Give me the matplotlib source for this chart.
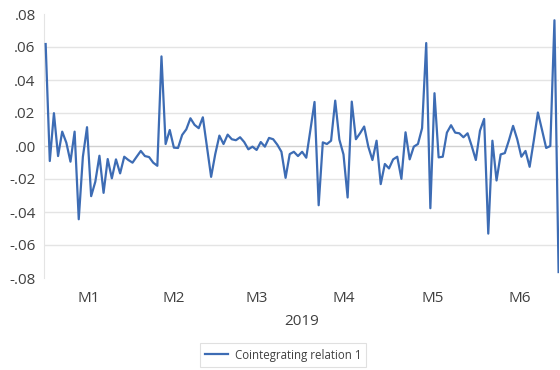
import matplotlib
matplotlib.use("Agg")
import matplotlib.pyplot as plt
import numpy as np

# observations per month (business days), H1 2019
month_labels = ["M1", "M2", "M3", "M4", "M5", "M6"]
month_obs = [22, 19, 21, 21, 22, 20]
year_label = "2019"
series_name = "Cointegrating relation 1"

relation = [
    0.0618, -0.0091, 0.0199, -0.0061, 0.0087, 0.0020, -0.0095, 0.0087, -0.0444, -0.0065,
    0.0114, -0.0304, -0.0217, -0.0059, -0.0284, -0.0079, -0.0196, -0.0081, -0.0166, -0.0065,
    -0.0085, -0.0101, -0.0065, -0.0030, -0.0061, -0.0067, -0.0101, -0.0120, 0.0543, 0.0012,
    0.0097, -0.0010, -0.0012, 0.0067, 0.0101, 0.0168,
    0.0128, 0.0108, 0.0174, -0.0006, -0.0187, -0.0049, 0.0063, 0.0012, 0.0069, 0.0041,
    0.0035, 0.0053, 0.0024, -0.0020, -0.0004, -0.0024, 0.0024, -0.0004, 0.0049, 0.0041,
    0.0008, -0.0035, -0.0193, -0.0049, -0.0035, -0.0061, -0.0035, -0.0071, 0.0097, 0.0267,
    -0.0359, 0.0022, 0.0012, 0.0032, 0.0275, 0.0039, -0.0051, -0.0312, 0.0269, 0.0041,
    0.0077, 0.0118, -0.0004,
    -0.0085, 0.0032, -0.0231, -0.0109, -0.0136, -0.0081, -0.0065, -0.0199, 0.0083, -0.0081,
    -0.0004, 0.0012, 0.0108, 0.0624, -0.0377, 0.0320, -0.0069, -0.0065, 0.0081, 0.0126,
    0.0081, 0.0077, 0.0053, 0.0077, 0.0000, -0.0085, 0.0093, 0.0164, -0.0531, 0.0032,
    -0.0209, -0.0051, -0.0043, 0.0035, 0.0122, 0.0041, -0.0065, -0.0030, -0.0126, 0.0032,
    0.0203, 0.0097, -0.0012, 0.0000, 0.0762, -0.0764,
]

y_ticks = [0.08, 0.06, 0.04, 0.02, 0.0, -0.02, -0.04, -0.06, -0.08]
y_tick_labels = [".08", ".06", ".04", ".02", ".00", "-.02", "-.04", "-.06", "-.08"]

plt.rcParams["font.family"] = ["Open Sans", "DejaVu Sans"]
txt = "#404040"
blue = "#3d6cb4"

fig = plt.figure(figsize=(5.6, 3.7), dpi=100)
ax = fig.add_axes([44 / 560, 1 - 278 / 370, (559 - 44) / 560, (278 - 14) / 370])

x = np.arange(len(relation))
ax.plot(x, relation, color=blue, lw=1.6, label=series_name, zorder=3)

ax.set_ylim(-0.08, 0.08)
ax.set_xlim(-0.4, len(relation) - 1 + 0.1)
ax.set_yticks(y_ticks)
ax.set_yticklabels(y_tick_labels, color=txt, fontsize=11)
for t in y_ticks:
    if abs(t) < 0.079:
        ax.axhline(t, color="#e4e4e4" if t != 0 else "#d0d0d0", lw=1, zorder=1)

edges = np.cumsum([0] + month_obs)
centers = [(edges[i] + edges[i + 1] - 1) / 2 for i in range(len(month_obs))]
ax.set_xticks(centers)
ax.set_xticklabels(month_labels, color=txt, fontsize=11)
ax.tick_params(length=0)
ax.tick_params(axis="x", pad=9)
ax.tick_params(axis="y", pad=6)
ax.set_xlabel(year_label, color=txt, fontsize=11, labelpad=6)

for s in ["top", "right", "bottom"]:
    ax.spines[s].set_visible(False)
ax.spines["left"].set_color("#e4e4e4")

leg = fig.legend(loc="center", bbox_to_anchor=(283 / 560, 1 - 355 / 370),
                 frameon=True, fancybox=False, fontsize=8.3, handlelength=2.0,
                 handletextpad=0.6, borderpad=0.45, borderaxespad=0, labelcolor=txt)
leg.get_frame().set_edgecolor("#d9d9d9")
leg.get_frame().set_linewidth(0.8)

fig.savefig("out.png", dpi=100)
plt.close(fig)
